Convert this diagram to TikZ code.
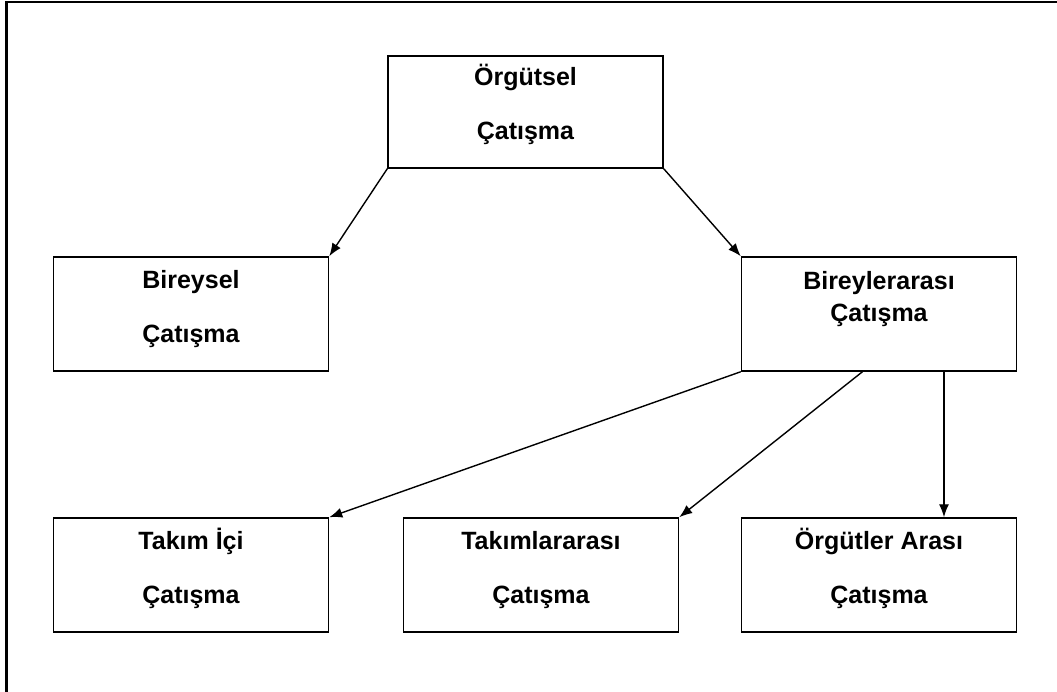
\documentclass[tikz,border=0pt]{standalone}
\usepackage{fontspec}
\setmainfont{Liberation Sans}
\usetikzlibrary{arrows.meta, calc}

\begin{document}
\begin{tikzpicture}[x=1pt, y=-1pt, >={Latex[length=13pt, width=10pt]},
    kutu/.style={draw, rectangle, line width=1.5pt, minimum width=275pt,
        minimum height=114pt, inner sep=0pt, align=center,
        font=\bfseries\fontsize{25}{54}\selectfont,
        text height=72pt, text depth=16pt},
    ok/.style={->, line width=1.4pt}]

    % 0. Sayfa sınırı
    \useasboundingbox (0, 0) rectangle (1057, 692);

    % 1. Çerçeve (üst ve sol kenar)
    \draw[line width=2.7pt] (6.7, 700) -- (6.7, 2) -- (1065, 2);

    % 2. Kutular
    \node[kutu, minimum height=112pt] (org) at (525.5, 112) {Örgütsel\\Çatışma};
    \node[kutu] (birey) at (191, 314) {Bireysel\\Çatışma};
    \node[kutu, font=\bfseries\fontsize{25}{32}\selectfont,
        text height=50pt, text depth=34pt]
        (bler) at (879, 314) {Bireylerarası\\Çatışma};
    \node[kutu] (takim) at (191, 575) {Takım İçi\\Çatışma};
    \node[kutu] (takimlar) at (541, 575) {Takımlararası\\Çatışma};
    \node[kutu] (orgler) at (879, 575) {Örgütler Arası\\Çatışma};

    % 3. Oklar
    \draw[ok] (org.south west) -- (birey.north east);
    \draw[ok] (org.south east) -- (bler.north west);
    \draw[ok] (bler.south west) -- (takim.north east);
    \draw[ok] ($(bler.south west)!0.44!(bler.south east)$) -- (takimlar.north east);
    \coordinate (dik) at ($(bler.south west)!0.735!(bler.south east)$);
    \draw[ok] (dik) -- (dik |- orgler.north);

\end{tikzpicture}
\end{document}
